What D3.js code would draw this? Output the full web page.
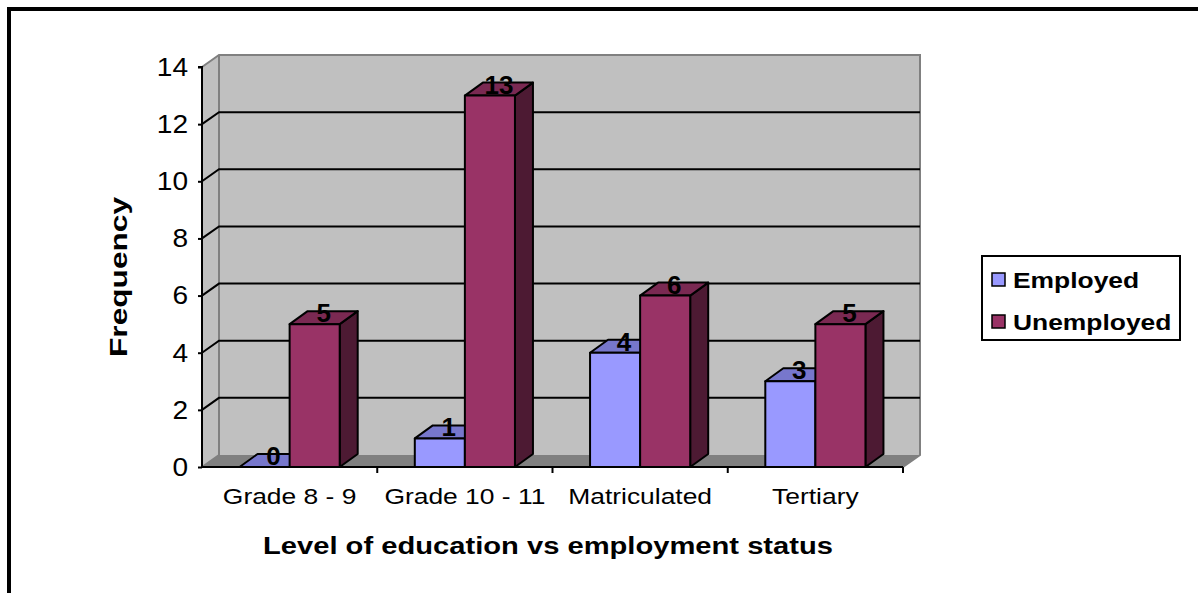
<!DOCTYPE html>
<html>
<head>
<meta charset="utf-8">
<script src="https://cdn.jsdelivr.net/npm/d3@7"></script>
<style>
  body { margin: 0; background: #fff; }
  text { font-family: Arial, "Liberation Sans", sans-serif; }
</style>
</head>
<body>
<svg class="chart"></svg>
<script>
const categories = ["Grade 8 - 9", "Grade 10 - 11", "Matriculated", "Tertiary"];
const series = ["Employed", "Unemployed"];
const employed = [0, 1, 4, 3];
const unemployed = [5, 13, 6, 5];
const yTicks = [0, 2, 4, 6, 8, 10, 12, 14];

const colors = {
  Employed: { front: "#9999ff", top: "#7777cc", side: "#4d4d80" },
  Unemployed: { front: "#993366", top: "#7a2952", side: "#4d1a33" }
};

const width = 1198, height = 593;
const svg = d3.select(".chart").attr("width", width).attr("height", height);

// the reference text is drawn a bit wider than the font, stretch it
function stretch(sel, k) {
  sel.each(function() {
    const w = this.getComputedTextLength();
    d3.select(this).attr("textLength", w * k).attr("lengthAdjust", "spacingAndGlyphs");
  });
}

// depth offset of the 3d box
const dx = 17, dy = -12;
const bdx = 18, bdy = -13;

const x0 = d3.scaleBand().domain(categories).range([202, 903]).paddingInner(0).paddingOuter(0);
const x1 = d3.scaleBand().domain(series).range([0, x0.bandwidth()]).paddingInner(0).paddingOuter(0.75);
const y = d3.scaleLinear().domain([0, 14]).range([467, 67]);

const left = x0.range()[0], right = x0.range()[1];

// outer frame
svg.append("path")
    .attr("d", `M9,593 L9,9 L1198,9`)
    .attr("fill", "none").attr("stroke", "#000").attr("stroke-width", 4);

// side wall + back wall
svg.append("path")
    .attr("d", `M${left},${y(0)} L${left},${y(14)} L${left + dx},${y(14) + dy} L${left + dx},${y(0) + dy} Z`)
    .attr("fill", "#c0c0c0");
svg.append("rect")
    .attr("x", left + dx).attr("y", y(14) + dy)
    .attr("width", right - left).attr("height", y(0) - y(14))
    .attr("fill", "#c0c0c0");

// floor
svg.append("path")
    .attr("d", `M${left},${y(0)} L${left + dx},${y(0) + dy} L${right + dx},${y(0) + dy} L${right},${y(0)} Z`)
    .attr("fill", "#808080");

// wall edges
svg.append("path")
    .attr("d", `M${left},${y(14)} L${left + dx},${y(14) + dy} L${right + dx},${y(14) + dy} L${right + dx},${y(0) + dy} L${right},${y(0)}
                M${left + dx},${y(14) + dy} L${left + dx},${y(0) + dy} L${left},${y(0)}`)
    .attr("fill", "none").attr("stroke", "#808080").attr("stroke-width", 2);

// gridlines
const grid = svg.append("g").attr("stroke", "#000").attr("stroke-width", 2).attr("fill", "none");
yTicks.filter(v => v > 0 && v < 14).forEach(v => {
  grid.append("path")
      .attr("d", `M${left},${y(v)} L${left + dx},${y(v) + dy} L${right + dx},${y(v) + dy}`);
});

// y axis
const yAxis = d3.axisLeft(y).tickValues(yTicks).tickSize(4).tickPadding(10);
const yg = svg.append("g").attr("transform", `translate(${left},0)`).call(yAxis);
yg.select(".domain").attr("stroke-width", 2).attr("d", `M-4,${y(14)}H0V${y(0)}`);
yg.selectAll(".tick line").attr("stroke-width", 2);
yg.selectAll(".tick text").attr("font-size", 26).attr("fill", "#000")
    .style("font-family", "Arial, 'Liberation Sans', sans-serif")
    .call(stretch, 1.08);

// x axis
const xg = svg.append("g");
xg.append("line").attr("x1", left).attr("x2", right).attr("y1", y(0)).attr("y2", y(0))
    .attr("stroke", "#000").attr("stroke-width", 2);
categories.forEach((c, i) => {
  const xr = x0(c) + x0.bandwidth();
  xg.append("line").attr("x1", xr).attr("x2", xr).attr("y1", y(0)).attr("y2", y(0) + 6)
      .attr("stroke", "#000").attr("stroke-width", 2);
});
xg.selectAll("text.cat").data(categories).enter().append("text")
    .attr("class", "cat")
    .attr("x", d => x0(d) + x0.bandwidth() / 2)
    .attr("y", 504)
    .attr("text-anchor", "middle")
    .attr("font-size", 22)
    .text(d => d)
    .call(stretch, 1.2);

// bars
const bars = [];
categories.forEach((c, i) => {
  bars.push({ cat: c, s: "Employed", v: employed[i] });
  bars.push({ cat: c, s: "Unemployed", v: unemployed[i] });
});

const bg = svg.append("g").attr("stroke", "#000").attr("stroke-width", 2).attr("stroke-linejoin", "round");
bars.forEach(d => {
  const bx = x0(d.cat) + x1(d.s), bw = x1.bandwidth();
  const yt = y(d.v), yb = y(0);
  const col = colors[d.s];
  // side
  bg.append("path")
      .attr("d", `M${bx + bw},${yb} L${bx + bw},${yt} L${bx + bw + bdx},${yt + bdy} L${bx + bw + bdx},${yb + bdy} Z`)
      .attr("fill", col.side);
  // top
  bg.append("path")
      .attr("d", `M${bx},${yt} L${bx + bdx},${yt + bdy} L${bx + bw + bdx},${yt + bdy} L${bx + bw},${yt} Z`)
      .attr("fill", col.top);
  // front
  if (d.v > 0) {
    bg.append("rect").attr("x", bx).attr("y", yt).attr("width", bw).attr("height", yb - yt)
        .attr("fill", col.front);
  }
});

// value labels
svg.selectAll("text.val").data(bars).enter().append("text")
    .attr("class", "val")
    .attr("x", d => x0(d.cat) + x1(d.s) + x1.bandwidth() / 2 + bdx / 2)
    .attr("y", d => y(d.v) - 2)
    .attr("text-anchor", "middle")
    .attr("font-size", 26)
    .attr("font-weight", "bold")
    .text(d => d.v);

// axis titles
svg.append("text")
    .attr("x", 548).attr("y", 554)
    .attr("text-anchor", "middle")
    .attr("font-size", 23).attr("font-weight", "bold")
    .attr("textLength", 570).attr("lengthAdjust", "spacingAndGlyphs")
    .text("Level of education vs employment status");

svg.append("text")
    .attr("transform", "translate(127,277) rotate(-90)")
    .attr("text-anchor", "middle")
    .attr("font-size", 23).attr("font-weight", "bold")
    .attr("textLength", 160).attr("lengthAdjust", "spacingAndGlyphs")
    .text("Frequency");

// legend
const lg = svg.append("g");
lg.append("rect").attr("x", 982).attr("y", 256).attr("width", 198).attr("height", 84)
    .attr("fill", "#fff").attr("stroke", "#000").attr("stroke-width", 2);
series.forEach((s, i) => {
  const ly = 280 + i * 42;
  lg.append("rect").attr("x", 992).attr("y", ly - 7).attr("width", 13).attr("height", 13)
      .attr("fill", colors[s].front).attr("stroke", "#000").attr("stroke-width", 1.5);
  lg.append("text").attr("x", 1013).attr("y", ly + 8)
      .attr("font-size", 22).attr("font-weight", "bold").text(s)
      .call(stretch, 1.2);
});
</script>
</body>
</html>
